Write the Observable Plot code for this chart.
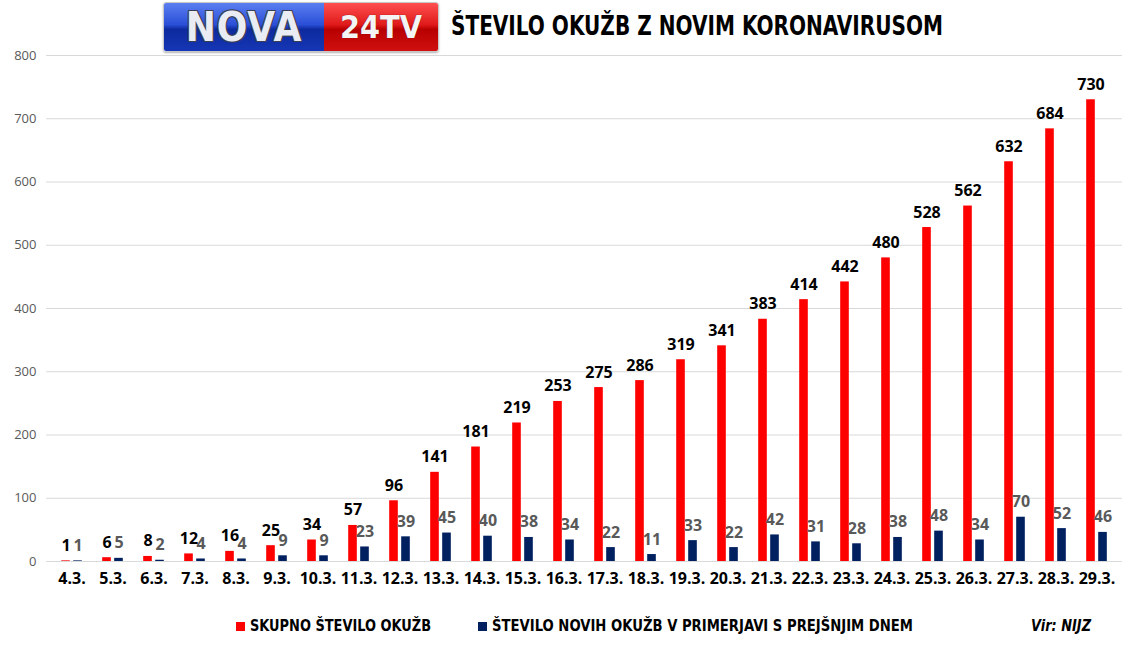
<!DOCTYPE html>
<html><head><meta charset="utf-8">
<script src="https://cdn.jsdelivr.net/npm/d3@7"></script>
<script src="https://cdn.jsdelivr.net/npm/@observablehq/plot@0.6"></script>
<style>
body{margin:0;background:#fff;width:1137px;height:655px;position:relative;overflow:hidden;font-family:"Open Sans",sans-serif}
#chart{position:absolute;left:0;top:0}
#logo{position:absolute;left:163px;top:2px;width:274px;height:48px;border:1px solid #c8c8c8;border-radius:3px;overflow:hidden;box-shadow:0 1px 2px rgba(0,0,0,.3);display:flex}
#logo .b{width:160px;height:100%;background:linear-gradient(#5b7ff0 0%,#2a4fd8 45%,#0d2a9e 55%,#1536b5 100%);display:flex;align-items:center;justify-content:center;font:bold 40px "DejaVu Sans Condensed",sans-serif;color:#e9edf3;letter-spacing:1px;text-shadow:-1px -1px 0 #3a3f55,1px 1px 0 #3a3f55,1px -1px 0 #3a3f55,-1px 1px 0 #3a3f55}
#logo .r{flex:1;height:100%;background:linear-gradient(#ff5050 0%,#e01a1a 45%,#b80000 55%,#d01010 100%);display:flex;align-items:center;justify-content:center;font:bold 32px "DejaVu Sans Condensed",sans-serif;color:#f4f4f4;text-shadow:0 0 1px #600}
.fit{position:absolute;white-space:nowrap;transform-origin:left center}
#title{left:451px;top:10px;font:bold 27px "Liberation Sans Narrow","DejaVu Sans Condensed",sans-serif;color:#000}
.lg{top:616px;font:bold 16px "Liberation Sans Narrow","DejaVu Sans Condensed",sans-serif;color:#000}
.sq{position:absolute;top:622px;width:9px;height:9px}
</style></head><body>
<div id="chart"></div>
<div id="logo"><div class="b">NOVA</div><div class="r">24TV</div></div>
<div id="title" class="fit" data-w="492">ŠTEVILO OKUŽB Z NOVIM KORONAVIRUSOM</div>
<div class="sq" style="left:236px;background:#ff0000"></div>
<div class="fit lg" style="left:250px" data-w="181">SKUPNO ŠTEVILO OKUŽB</div>
<div class="sq" style="left:478px;background:#002060"></div>
<div class="fit lg" style="left:492px" data-w="421">ŠTEVILO NOVIH OKUŽB V PRIMERJAVI S PREJŠNJIM DNEM</div>
<div class="fit lg" style="left:1031px;font-style:italic" data-w="60">Vir: NIJZ</div>
<script>
const dates = ["4.3.","5.3.","6.3.","7.3.","8.3.","9.3.","10.3.","11.3.","12.3.","13.3.","14.3.","15.3.","16.3.","17.3.","18.3.","19.3.","20.3.","21.3.","22.3.","23.3.","24.3.","25.3.","26.3.","27.3.","28.3.","29.3."];
const totalCases = [1,6,8,12,16,25,34,57,96,141,181,219,253,275,286,319,341,383,414,442,480,528,562,632,684,730];
const newCases = [1,5,2,4,4,9,9,23,39,45,40,38,34,22,11,33,22,42,31,28,38,48,34,70,52,46];
const yTicks = [0,100,200,300,400,500,600,700,800];

const rows = dates.map((d,i)=>({date:d,total:totalCases[i],nw:newCases[i]}));
const W = 1137, mL = 46, mR = 15;
const bw = (W - mL - mR) / dates.length;
const innerA = bw/2 - 10.5, innerB = bw/2 + 1.5;

const chart = Plot.plot({
  width: W, height: 600,
  marginTop: 55, marginBottom: 39, marginLeft: mL, marginRight: mR,
  style: {fontFamily: "'Open Sans', sans-serif", background: "transparent", overflow: "visible"},
  x: {domain: dates, padding: 0, label: null},
  y: {domain: [0, 800], label: null},
  marks: [
    Plot.gridY(yTicks, {stroke: "#d9d9d9", strokeOpacity: 1, strokeWidth: 1}),
    Plot.barY(rows, {x: "date", y: "total", fill: "#ff0000", insetLeft: innerA, insetRight: innerB}),
    Plot.barY(rows, {x: "date", y: "nw", fill: "#002060", insetLeft: innerB, insetRight: innerA}),
    Plot.text(rows, {x: "date", y: "total", text: d => String(d.total), dx: -6, dy: -10, lineAnchor: "bottom", fill: "#000", fontWeight: "bold", fontSize: 16}),
    Plot.text(rows, {x: "date", y: "nw", text: d => String(d.nw), dx: 6, dy: -10, lineAnchor: "bottom", fill: "#595959", fontWeight: "bold", fontSize: 16}),
    Plot.axisY({ticks: yTicks, tickSize: 0, tickPadding: 10, fontSize: 13, color: "#595959", label: null}),
    Plot.axisX({tickSize: 0, tickPadding: 11, fontSize: 16, fontWeight: "bold", color: "#000", label: null})
  ]
});
document.getElementById("chart").appendChild(chart);

document.querySelectorAll(".fit").forEach(el => {
  const w = el.getBoundingClientRect().width;
  const target = +el.dataset.w;
  el.style.transform = `scaleX(${target / w})`;
});
</script>
</body></html>
